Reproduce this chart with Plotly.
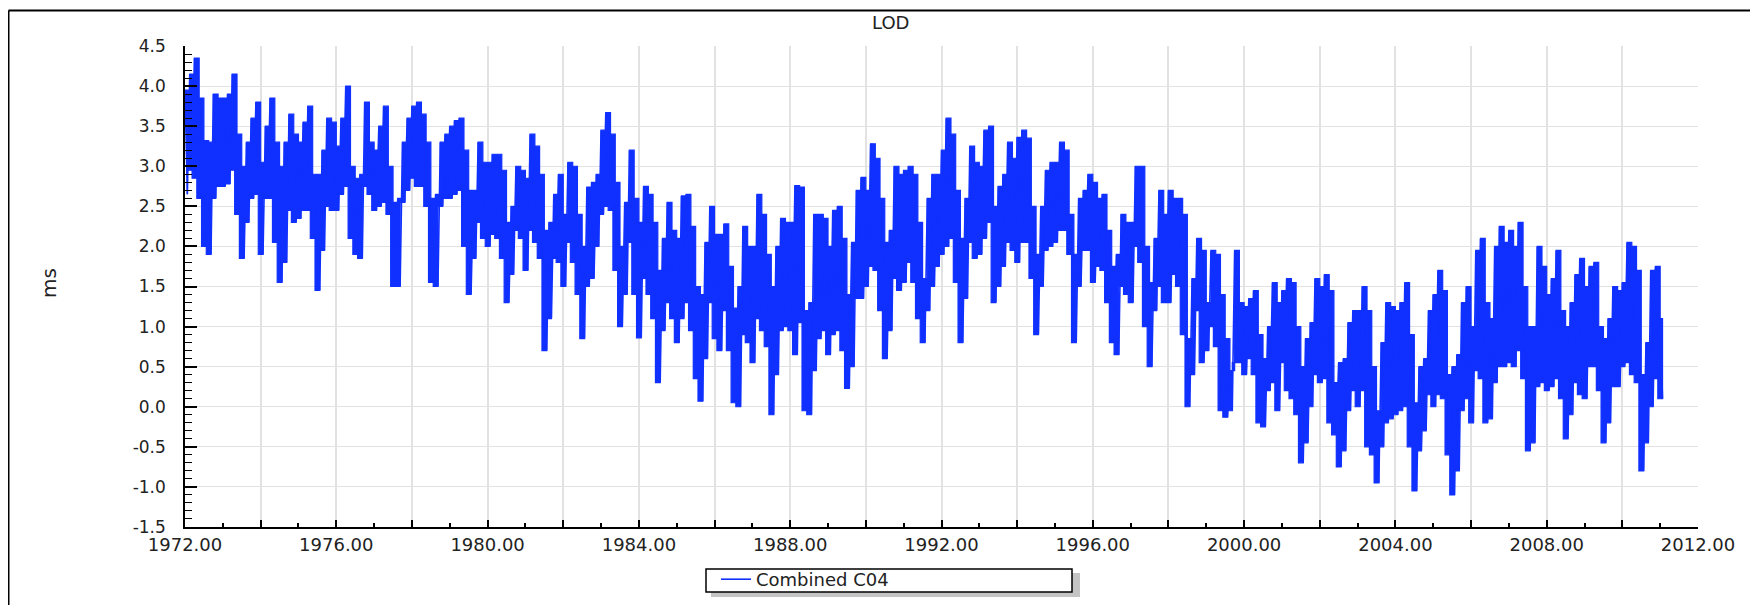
import plotly.graph_objects as go

# ---------------- data ----------------
SAMPLE_START = 1972.0      # first sample (decimal year)
SAMPLES_PER_YEAR = 8       # envelope samples per year

# upper envelope of the daily LOD series (ms), one row per year
lod_upper = [
    3.95, 4.15, 4.35, 3.85, 3.32, 3.30, 3.90, 3.85,   # 1972
    3.85, 3.90, 4.15, 3.40, 3.00, 3.30, 3.60, 3.80,   # 1973
    3.05, 3.50, 3.85, 3.30, 3.00, 3.30, 3.65, 3.40,   # 1974
    3.30, 3.55, 3.75, 2.90, 2.90, 3.20, 3.60, 3.55,   # 1975
    3.25, 3.60, 4.00, 3.00, 2.85, 2.90, 3.80, 3.30,   # 1976
    3.20, 3.50, 3.75, 3.00, 2.55, 2.60, 3.30, 3.60,   # 1977
    3.75, 3.80, 3.65, 3.30, 2.60, 2.65, 3.30, 3.40,   # 1978
    3.50, 3.57, 3.60, 3.20, 2.70, 2.70, 3.30, 3.05,   # 1979
    3.05, 3.15, 3.15, 2.95, 2.30, 2.50, 3.00, 2.95,   # 1980
    2.85, 3.40, 3.25, 2.90, 2.20, 2.30, 2.65, 2.90,   # 1981
    2.40, 3.05, 3.00, 2.40, 2.00, 2.74, 2.80, 2.90,   # 1982
    3.45, 3.67, 3.40, 2.80, 2.00, 2.55, 3.20, 2.60,   # 1983
    2.30, 2.75, 2.65, 2.30, 1.70, 2.10, 2.55, 2.20,   # 1984
    2.10, 2.63, 2.65, 2.25, 1.50, 1.40, 2.05, 2.50,   # 1985
    2.15, 2.15, 2.28, 1.75, 1.23, 1.50, 2.25, 2.00,   # 1986
    2.00, 2.65, 2.40, 1.90, 1.50, 2.00, 2.35, 2.30,   # 1987
    2.30, 2.76, 2.74, 1.20, 1.30, 2.40, 2.40, 2.35,   # 1988
    2.00, 2.45, 2.50, 2.10, 1.40, 2.05, 2.70, 2.86,   # 1989
    2.70, 3.28, 3.10, 2.60, 2.05, 2.20, 3.00, 2.90,   # 1990
    2.95, 3.00, 2.90, 2.30, 1.60, 2.60, 2.90, 2.90,   # 1991
    3.20, 3.60, 3.40, 2.70, 2.10, 2.60, 3.25, 3.05,   # 1992
    3.00, 3.45, 3.50, 2.50, 2.75, 2.90, 3.30, 3.10,   # 1993
    3.36, 3.45, 3.35, 2.50, 1.90, 2.50, 2.95, 3.05,   # 1994
    3.05, 3.30, 3.20, 2.40, 1.90, 2.60, 2.70, 2.90,   # 1995
    2.80, 2.60, 2.65, 2.20, 1.75, 1.90, 2.40, 2.30,   # 1996
    2.30, 3.00, 3.00, 2.00, 1.55, 2.10, 2.70, 2.40,   # 1997
    2.70, 2.60, 2.60, 2.40, 0.85, 1.60, 2.10, 1.95,   # 1998
    1.30, 1.95, 1.90, 1.40, 0.85, 0.45, 1.95, 1.30,   # 1999
    1.25, 1.35, 1.45, 0.90, 0.60, 1.00, 1.55, 1.30,   # 2000
    1.45, 1.60, 1.55, 1.00, 0.50, 0.85, 1.05, 1.60,   # 2001
    1.50, 1.65, 1.45, 0.30, 0.55, 0.60, 1.05, 1.20,   # 2002
    1.20, 1.50, 1.20, 0.50, -0.05, 0.80, 1.30, 1.25,  # 2003
    1.20, 1.30, 1.55, 0.90, 0.05, 0.50, 0.60, 1.20,   # 2004
    1.40, 1.70, 1.45, 0.40, 0.50, 0.65, 1.30, 1.50,   # 2005
    1.00, 1.95, 2.10, 1.30, 1.10, 2.00, 2.25, 2.05,   # 2006
    2.20, 2.00, 2.30, 1.50, 1.00, 1.00, 2.00, 1.75,   # 2007
    1.40, 1.60, 1.95, 1.20, 1.00, 1.30, 1.65, 1.85,   # 2008
    1.50, 1.75, 1.80, 1.00, 0.85, 1.10, 1.50, 1.45,   # 2009
    1.55, 2.05, 2.00, 1.70, 0.40, 0.80, 1.70, 1.75,   # 2010
    1.10,                                             # 2011
]

# lower envelope of the daily LOD series (ms)
lod_lower = [
    2.65, 2.95, 2.85, 2.60, 2.00, 1.90, 2.60, 2.75,   # 1972
    2.75, 2.78, 2.95, 2.40, 1.85, 2.30, 2.60, 2.65,   # 1973
    1.90, 2.60, 2.60, 2.05, 1.55, 1.80, 2.45, 2.30,   # 1974
    2.35, 2.45, 2.45, 2.10, 1.45, 1.95, 2.50, 2.45,   # 1975
    2.45, 2.65, 2.75, 2.10, 1.90, 1.85, 2.75, 2.65,   # 1976
    2.45, 2.50, 2.55, 2.40, 1.50, 1.50, 2.55, 2.70,   # 1977
    2.85, 2.75, 2.75, 2.50, 1.55, 1.50, 2.50, 2.60,   # 1978
    2.60, 2.65, 2.70, 2.00, 1.40, 1.85, 2.30, 2.10,   # 1979
    2.00, 2.15, 2.10, 1.85, 1.30, 1.65, 2.20, 2.10,   # 1980
    1.70, 2.20, 2.05, 1.85, 0.70, 1.10, 1.85, 1.80,   # 1981
    1.50, 2.05, 1.80, 1.40, 0.85, 1.50, 1.60, 2.00,   # 1982
    2.40, 2.50, 2.45, 1.70, 1.00, 1.40, 2.05, 1.40,   # 1983
    0.86, 1.60, 1.40, 1.10, 0.30, 0.95, 1.30, 1.10,   # 1984
    0.80, 1.10, 1.30, 0.95, 0.35, 0.07, 0.60, 1.30,   # 1985
    0.85, 0.70, 1.20, 0.70, 0.05, 0.00, 0.90, 0.80,   # 1986
    0.55, 1.10, 0.95, 0.75, -0.10, 0.40, 0.95, 1.00,  # 1987
    0.95, 0.65, 1.05, -0.05, -0.10, 0.45, 0.85, 0.95, # 1988
    0.65, 0.90, 0.95, 0.70, 0.23, 0.50, 1.35, 1.35,   # 1989
    1.50, 1.75, 1.70, 1.20, 0.60, 0.95, 1.60, 1.45,   # 1990
    1.55, 1.80, 1.55, 1.10, 0.80, 1.20, 1.50, 1.75,   # 1991
    1.90, 2.00, 2.10, 1.55, 0.80, 1.35, 2.05, 1.85,   # 1992
    1.90, 2.10, 2.30, 1.30, 1.50, 1.75, 2.05, 1.95,   # 1993
    1.80, 2.05, 2.05, 1.60, 0.90, 1.50, 1.95, 2.00,   # 1994
    2.05, 2.20, 2.20, 1.90, 0.80, 1.50, 1.95, 1.95,   # 1995
    1.55, 1.75, 1.70, 1.30, 0.80, 0.65, 1.50, 1.40,   # 1996
    1.30, 2.00, 1.80, 1.00, 0.50, 1.20, 1.50, 1.30,   # 1997
    1.30, 1.65, 1.50, 0.90, 0.00, 0.40, 1.20, 0.55,   # 1998
    0.70, 1.00, 0.75, -0.05, -0.13, -0.05, 0.55, 0.55, # 1999
    0.40, 0.60, 0.40, -0.20, -0.25, 0.20, 0.30, -0.05, # 2000
    0.55, 0.20, 0.10, -0.10, -0.70, -0.45, 0.00, 0.40, # 2001
    0.30, 0.35, -0.20, -0.35, -0.75, -0.55, -0.05, 0.20, # 2002
    0.00, 0.20, -0.50, -0.60, -0.95, -0.50, -0.20, -0.15, # 2003
    -0.10, -0.05, 0.00, -0.50, -1.05, -0.55, -0.30, 0.15, # 2004
    0.00, 0.15, 0.10, -0.60, -1.10, -0.80, -0.05, 0.10, # 2005
    -0.20, 0.45, 0.35, -0.20, -0.15, 0.30, 0.50, 0.50, # 2006
    0.55, 0.50, 0.70, 0.35, -0.55, -0.45, 0.25, 0.30, # 2007
    0.20, 0.25, 0.35, 0.10, -0.40, -0.10, 0.30, 0.15, # 2008
    0.10, 0.50, 0.50, 0.20, -0.45, -0.20, 0.25, 0.25, # 2009
    0.50, 0.55, 0.40, 0.30, -0.80, -0.45, 0.00, 0.35, # 2010
    0.10,                                             # 2011
]

x_label_years = [1972, 1976, 1980, 1984, 1988, 1992, 1996, 2000, 2004, 2008, 2012]
y_ticks = [-1.5, -1.0, -0.5, 0.0, 0.5, 1.0, 1.5, 2.0, 2.5, 3.0, 3.5, 4.0, 4.5]

assert len(lod_upper) == len(lod_lower)

# ---------------- build the traces ----------------
t_up, t_lo = [], []
for i in range(len(lod_upper)):
    t = SAMPLE_START + i / SAMPLES_PER_YEAR
    t_up.append(t)
    t_lo.append(t + 0.5 / SAMPLES_PER_YEAR)

zig_x, zig_y = [], []
for tu, tl, hi, lo in zip(t_up, t_lo, lod_upper, lod_lower):
    zig_x += [tu, tl]
    zig_y += [hi, lo]

band_x = t_up + t_lo[::-1]
band_y = lod_upper + lod_lower[::-1]

BLUE = "#1030ff"
FONT = "DejaVu Sans"
TXT = "#222222"

fig = go.Figure()
# stepped envelope band (dense daily strokes merge into this solid band)
fig.add_trace(go.Scatter(
    x=band_x, y=band_y, mode="lines", fill="toself", fillcolor=BLUE,
    line=dict(color=BLUE, width=1.2, shape="hv", simplify=False),
    showlegend=False, hoverinfo="skip",
))
fig.add_trace(go.Scatter(
    x=zig_x, y=zig_y, mode="lines", name="Combined C04",
    line=dict(color=BLUE, width=1.6, simplify=False),
))

# page body has an 8px margin: the figure is drawn from (8, 8)
OFF = 8
FIG_W, FIG_H = 1758 - OFF, 605 - OFF
# plot area in screenshot pixels
L, R, T, B = 185, 1698, 46, 527
W, H = R - L, B - T
px = lambda v: (v - L) / W
py = lambda v: (B - v) / H

major_x = list(range(1972, 2013, 2))
minor_x = list(range(1973, 2012, 2))

fig.update_layout(
    width=FIG_W, height=FIG_H,
    margin=dict(l=L - OFF, r=FIG_W - (R - OFF), t=T - OFF, b=FIG_H - (B - OFF),
                autoexpand=False),
    paper_bgcolor="white", plot_bgcolor="white",
    font=dict(family=FONT, color=TXT),
    showlegend=True,
    legend=dict(
        orientation="h", x=px(716), y=py(561), xanchor="left", yanchor="top",
        bgcolor="rgba(0,0,0,0)", borderwidth=0,
        font=dict(family=FONT, size=18, color=TXT),
    ),
    xaxis=dict(
        range=[1972, 2012], tickmode="array", tickvals=major_x,
        ticktext=[f"{v}.00" if v in x_label_years else "" for v in major_x],
        ticks="inside", ticklen=7, tickwidth=1.5, tickcolor="black",
        showline=True, linecolor="black", linewidth=1.5,
        showgrid=True, gridcolor="#e2e2e2", gridwidth=2,
        zeroline=False, ticklabelstandoff=1,
        tickfont=dict(family=FONT, size=18, color=TXT),
        minor=dict(tickvals=minor_x, ticks="inside", ticklen=4,
                   tickcolor="black", tickwidth=1.5, showgrid=False),
    ),
    yaxis=dict(
        range=[-1.5, 4.5], tickmode="array", tickvals=y_ticks,
        ticktext=[f"{v:.1f}" for v in y_ticks],
        ticks="inside", ticklen=12, tickwidth=1.5, tickcolor="black",
        showline=True, linecolor="black", linewidth=1.5,
        showgrid=True, gridcolor="#e2e2e2", gridwidth=1,
        zeroline=False, ticklabelstandoff=14,
        tickfont=dict(family=FONT, size=17, color=TXT),
        minor=dict(dtick=0.1, ticks="inside", ticklen=7,
                   tickcolor="black", tickwidth=1.2, showgrid=False),
    ),
    annotations=[
        dict(text="LOD", x=px(890), y=py(22), xref="paper", yref="paper",
             showarrow=False, xanchor="center", yanchor="middle",
             font=dict(family=FONT, size=18, color=TXT)),
        dict(text="ms", x=px(49), y=py(283), xref="paper", yref="paper",
             showarrow=False, xanchor="center", yanchor="middle", textangle=-90,
             font=dict(family=FONT, size=20, color=TXT)),
    ],
    shapes=[
        # legend drop shadow
        dict(type="rect", xref="paper", yref="paper", layer="above",
             x0=px(711), y0=py(573), x1=px(1080), y1=py(597),
             fillcolor="#c4c4c4", line=dict(width=0)),
        # legend box
        dict(type="rect", xref="paper", yref="paper", layer="above",
             x0=px(706), y0=py(569), x1=px(1072), y1=py(592),
             fillcolor="white", line=dict(color="black", width=1.5)),
        # outer chart frame (top and left edges visible)
        dict(type="line", xref="paper", yref="paper",
             x0=px(8.5), y0=py(10.5), x1=px(1770), y1=py(10.5),
             line=dict(color="black", width=2)),
        dict(type="line", xref="paper", yref="paper",
             x0=px(8.5), y0=py(10.5), x1=px(8.5), y1=py(620),
             line=dict(color="black", width=2)),
    ],
)

fig.write_html("out.html")
